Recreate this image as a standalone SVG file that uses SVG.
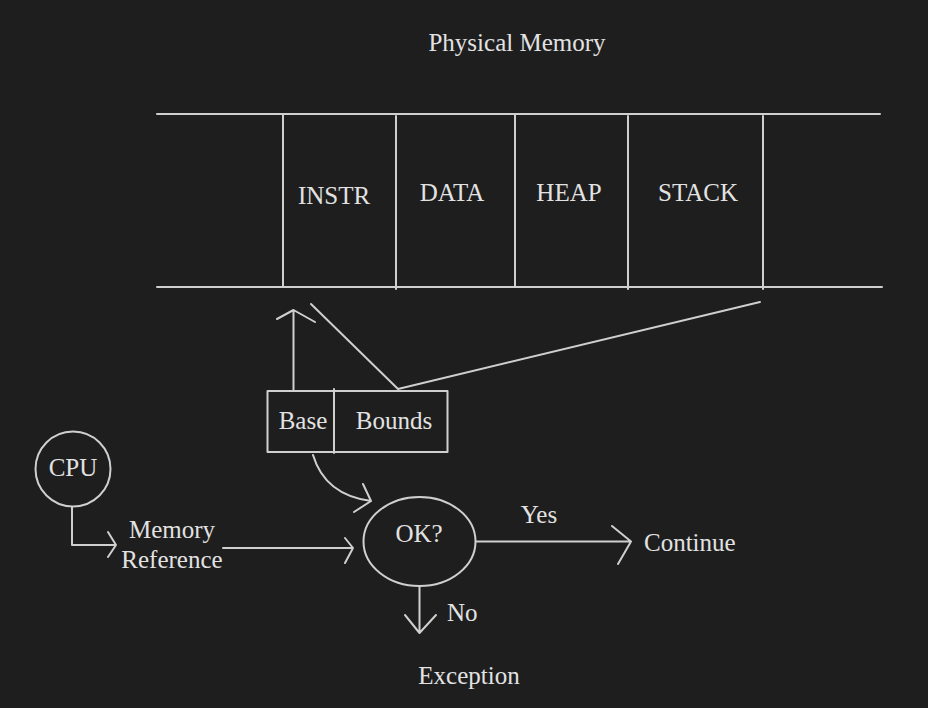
<svg xmlns="http://www.w3.org/2000/svg" width="928" height="708" viewBox="0 0 928 708">
<style>
.ln{stroke:#cfcfcf;stroke-width:2;fill:none;stroke-linecap:round;stroke-linejoin:round}
.t{font-family:"Liberation Serif","Times New Roman",serif;font-size:25px;fill:#e2e2e2}
.m{text-anchor:middle}
</style>
<rect width="928" height="708" fill="#1e1e1e"/>
<g id="title"><text class="t m" x="517" y="51">Physical Memory</text></g>
<g id="memory">
<line class="ln" x1="157" y1="114" x2="880" y2="114"/>
<line class="ln" x1="157" y1="287" x2="882" y2="287"/>
<line class="ln" x1="283" y1="115" x2="283" y2="287"/>
<line class="ln" x1="396" y1="116" x2="396" y2="289"/>
<line class="ln" x1="515" y1="115" x2="515" y2="287"/>
<line class="ln" x1="628" y1="116" x2="628" y2="289"/>
<line class="ln" x1="763" y1="116" x2="763" y2="289"/>
</g>
<g id="instr"><text class="t m" x="334" y="204">INSTR</text></g>
<g id="data"><text class="t m" x="452" y="201">DATA</text></g>
<g id="heap"><text class="t m" x="569" y="201">HEAP</text></g>
<g id="stack"><text class="t m" x="698" y="201">STACK</text></g>
<g id="basebounds">
<rect class="ln" x="267.5" y="391" width="180" height="61"/>
<line class="ln" x1="334" y1="389" x2="334" y2="453"/>
<text class="t m" x="303" y="429">Base</text>
<text class="t m" x="394" y="429">Bounds</text>
</g>
<g id="cpu">
<circle class="ln" cx="73" cy="469" r="37.5"/>
<text class="t m" x="73" y="476">CPU</text>
</g>
<g id="memref">
<text class="t m" x="172" y="538">Memory</text>
<text class="t m" x="172" y="568">Reference</text>
</g>
<g id="ok">
<ellipse class="ln" cx="419.5" cy="541.5" rx="56" ry="44.5"/>
<text class="t m" x="419" y="542">OK?</text>
</g>
<g id="continue"><text class="t" x="644" y="551">Continue</text></g>
<g id="exception"><text class="t m" x="469" y="684">Exception</text></g>
<g id="connectors">
<path class="ln" d="M293.5 390 V310 M277 319 L293.5 310 L315 322"/>
<path class="ln" d="M311 304 L398 389 L760 302"/>
<path class="ln" d="M72 507 V545 H116 M108 532 L116 545 L108 557"/>
<path class="ln" d="M223 548 H353 M345 538 L353 548 L345 563"/>
<path class="ln" d="M313 455 Q325 495 371 501 M363 484 L371 501 L354 512"/>
<path class="ln" d="M476 541.5 H631 M612 526 L631 541.5 L618 564"/>
<path class="ln" d="M419.5 586 V633 M405 615 L419.5 633 L436 615"/>
<text class="t m" x="539" y="523">Yes</text>
<text class="t" x="447" y="621">No</text>
</g>
</svg>
